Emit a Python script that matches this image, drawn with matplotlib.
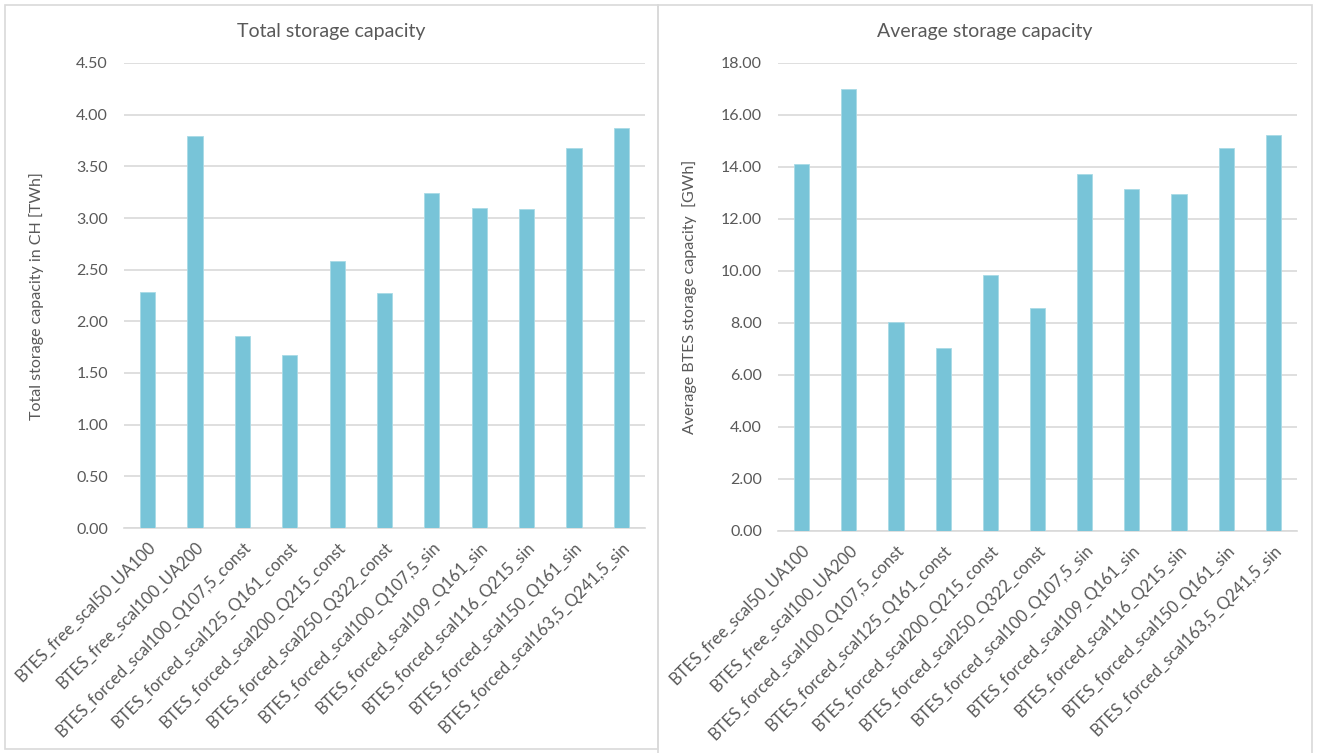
import matplotlib
matplotlib.use("Agg")
from matplotlib import pyplot as plt
from matplotlib.patches import Rectangle
import numpy as np

plt.rcParams['font.family'] = ['Lato', 'DejaVu Sans']

cases = ['BTES_free_scal50_UA100', 'BTES_free_scal100_UA200',
         'BTES_forced_scal100_Q107,5_const', 'BTES_forced_scal125_Q161_const',
         'BTES_forced_scal200_Q215_const', 'BTES_forced_scal250_Q322_const',
         'BTES_forced_scal100_Q107,5_sin', 'BTES_forced_scal109_Q161_sin',
         'BTES_forced_scal116_Q215_sin', 'BTES_forced_scal150_Q161_sin',
         'BTES_forced_scal163,5_Q241,5_sin']
total_twh = [2.28, 3.79, 1.86, 1.67, 2.58, 2.27, 3.24, 3.10, 3.09, 3.68, 3.87]
avg_gwh = [14.13, 17.01, 8.05, 7.05, 9.83, 8.58, 13.73, 13.14, 12.97, 14.75, 15.24]

bar_col = '#78C4D8'
grid_col = '#D9D9D9'
txt_col = '#595959'

W, H = 1320, 753
fig = plt.figure(figsize=(W / 100, H / 100), dpi=100)

# chart frames (right one runs past the bottom edge)
fig.add_artist(Rectangle((5 / W, 1 - 749 / H), 653 / W, 744 / H, transform=fig.transFigure,
                         fill=False, edgecolor=grid_col, linewidth=1.2))
fig.add_artist(Rectangle((658 / W, -0.05), 654 / W, 1 - 5 / H + 0.05, transform=fig.transFigure,
                         fill=False, edgecolor=grid_col, linewidth=1.2))

ax1 = fig.add_axes([124 / W, 1 - 528 / H, 521 / W, 465 / H])
ax2 = fig.add_axes([778 / W, 1 - 531 / H, 519 / W, 468 / H])


def style(ax, vals, ymax, step):
    x = np.arange(len(cases))
    ax.bar(x, vals, width=0.32, color=bar_col, edgecolor='#A9DAE6', linewidth=0.6, zorder=3)
    ax.set_xlim(-0.5, len(cases) - 0.5)
    ax.set_ylim(0, ymax)
    ax.set_yticks(np.arange(0, ymax + step / 2, step))
    ax.set_yticklabels([f'{v:.2f}' for v in ax.get_yticks()], fontsize=11.5, color=txt_col)
    ax.set_xticks(x)
    ax.set_xticklabels(cases, rotation=45, ha='right', rotation_mode='anchor',
                       fontsize=12, color=txt_col)
    ax.tick_params(axis='y', length=0, pad=11.5)
    ax.tick_params(axis='x', length=0, pad=8)
    ax.grid(axis='y', color=grid_col, linewidth=1.2, zorder=0)
    for s in ['top', 'right', 'left']:
        ax.spines[s].set_visible(False)
    ax.spines['bottom'].set_color(grid_col)
    ax.spines['bottom'].set_linewidth(1.2)


style(ax1, total_twh, 4.5, 0.5)
style(ax2, avg_gwh, 18, 2)

# titles centred on each chart frame, axis titles at the frame edge
fig.text(331 / W, 1 - 31 / H, 'Total storage capacity', fontsize=14, color=txt_col,
         ha='center', va='center')
fig.text(985 / W, 1 - 31 / H, 'Average storage capacity', fontsize=14, color=txt_col,
         ha='center', va='center')
fig.text(37 / W, 1 - 296 / H, 'Total storage capacity in CH [TWh]', fontsize=11.5,
         color=txt_col, rotation=90, ha='center', va='center')
fig.text(690 / W, 1 - 297 / H, 'Average BTES storage capacity  [GWh]', fontsize=11.5,
         color=txt_col, rotation=90, ha='center', va='center')

fig.savefig('out.png', dpi=100)
